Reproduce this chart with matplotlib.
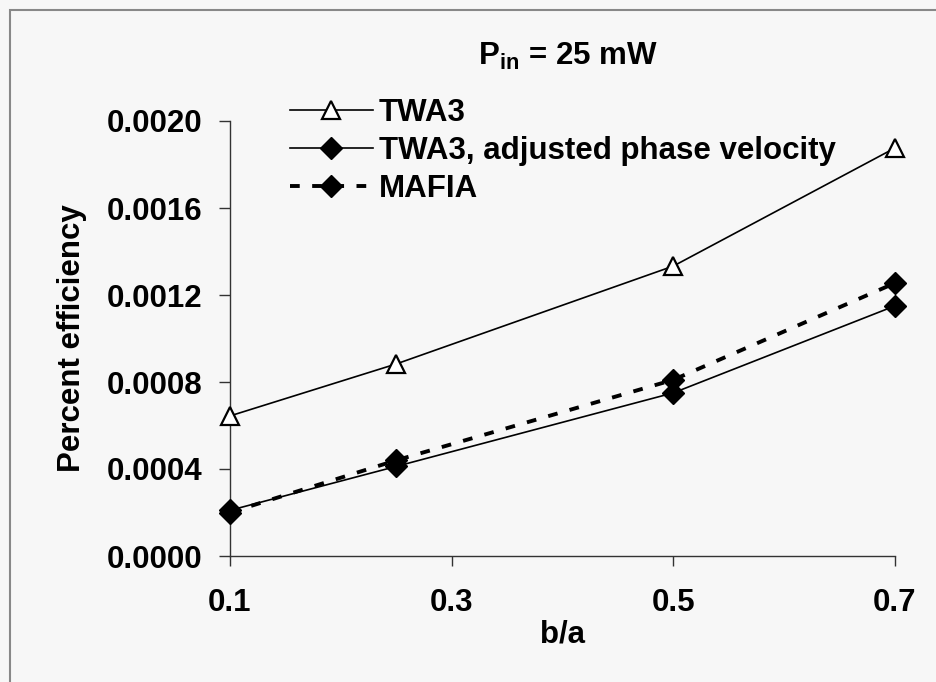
import matplotlib
matplotlib.use("Agg")
import matplotlib.pyplot as plt
from matplotlib.patches import Rectangle

plt.rcParams['font.family'] = ['Liberation Sans', 'DejaVu Sans']
plt.rcParams['font.weight'] = 'bold'
plt.rcParams['mathtext.fontset'] = 'custom'
plt.rcParams['mathtext.bf'] = 'Liberation Sans:bold'
plt.rcParams['mathtext.rm'] = 'Liberation Sans:bold'

ba = [0.1, 0.25, 0.5, 0.7]
twa3 = [0.000644, 0.000883, 0.001333, 0.001876]
twa3_adj = [0.00021, 0.000412, 0.00075, 0.00115]
mafia = [0.0002, 0.00044, 0.00081, 0.001255]
xticks = [0.1, 0.3, 0.5, 0.7]
yticks = [0.0, 0.0004, 0.0008, 0.0012, 0.0016, 0.0020]
labels = ["TWA3", "TWA3, adjusted phase velocity", "MAFIA"]

bg = '#f7f7f7'
fig = plt.figure(figsize=(9.37, 6.82), dpi=100, facecolor=bg)
ax = fig.add_axes([230/937, 1-556/682, (895-230)/937, (556-121)/682])
ax.set_facecolor(bg)

ax.plot(ba, twa3, '-', color='black', lw=1.2, marker='^', ms=13,
        mfc='white', mec='black', mew=1.6, label=labels[0], zorder=3, clip_on=False)
ax.plot(ba, twa3_adj, '-', color='black', lw=1.2, marker='D', ms=11.5,
        mfc='black', mec='black', label=labels[1], zorder=3, clip_on=False)
ax.plot(ba, mafia, color='black', lw=2.8, ls=(0, (2.5, 3.2)), marker='D', ms=11.5,
        mfc='black', mec='black', label=labels[2], zorder=3, clip_on=False)

ax.set_xlim(0.1, 0.7)
ax.set_ylim(0, 0.002)
ax.set_xticks(xticks)
ax.set_xticklabels([f"{v:.1f}" for v in xticks])
ax.set_yticks(yticks)
ax.set_yticklabels([f"{v:.4f}" for v in yticks])
for s in ['top', 'right']:
    ax.spines[s].set_visible(False)
for s in ['left', 'bottom']:
    ax.spines[s].set_linewidth(1.0)
    ax.spines[s].set_color('#333333')
ax.tick_params(axis='x', direction='out', length=7, width=1, pad=16, labelsize=22.5, colors='#333333', labelcolor='black')
ax.tick_params(axis='y', direction='out', length=8, width=1, pad=12, labelsize=22.5, colors='#333333', labelcolor='black')
for lab in ax.get_xticklabels() + ax.get_yticklabels():
    lab.set_fontweight('bold')

ax.set_xlabel("b/a", fontsize=22.5, fontweight='bold', labelpad=1)
ax.set_ylabel("Percent efficiency", fontsize=22.5, fontweight='bold', labelpad=14)

fig.text(568/937, 1-56/682, r"$\mathbf{P_{in}}$ = 25 mW", fontsize=22.5, fontweight='bold',
         ha='center', va='center')

leg = ax.legend(loc='upper left', bbox_to_anchor=(290/937, 1-98/682), bbox_transform=fig.transFigure,
                frameon=False, fontsize=22.5, handlelength=2.65, handletextpad=0.2,
                labelspacing=0.25, borderpad=0, borderaxespad=0)
for t in leg.get_texts():
    t.set_fontweight('bold')

fig.patches.append(Rectangle((10/937, -0.05), 1.2, 1-10/682+0.05, transform=fig.transFigure,
                             fill=False, edgecolor='#888888', lw=1.5))

fig.savefig("out.png", dpi=100, facecolor=bg)
